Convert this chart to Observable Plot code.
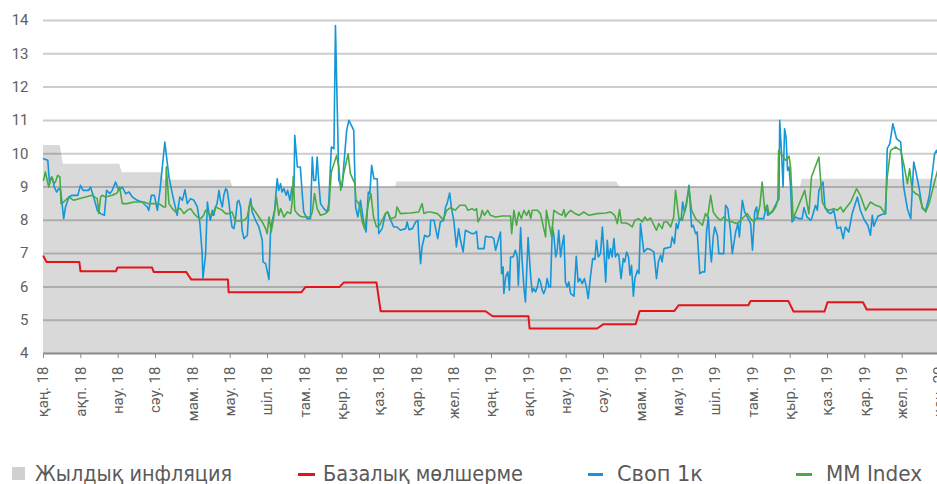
<!DOCTYPE html>
<html><head><meta charset="utf-8">
<script src="https://cdn.jsdelivr.net/npm/d3@7"></script>
<script src="https://cdn.jsdelivr.net/npm/@observablehq/plot@0.6"></script>
<style>
body{margin:0;background:#fff;overflow:hidden}
#chart{width:937px;height:484px;overflow:hidden}
#chart svg{display:block}
</style>
</head><body><div id="chart"></div>
<script>
// month tick labels (one per month, index 0 = Jan 2018)
const monthLabels = ["қаң. 18","ақп. 18","нау. 18","сәу. 18","мам. 18","мау. 18","шіл. 18","там. 18","қыр. 18","қаз. 18","қар. 18","жел. 18",
  "қаң. 19","ақп. 19","нау. 19","сәу. 19","мам. 19","мау. 19","шіл. 19","там. 19","қыр. 19","қаз. 19","қар. 19","жел. 19","қаң. 20"];
const yTicks = [4,5,6,7,8,9,10,11,12,13,14];

// Жылдық инфляция (t = months since Jan 2018)
const inflT = [0,0.45,0.53,2.04,2.11,3.16,3.23,5.01,5.07,9.43,9.47,15.35,15.44,20.28,20.32,24];
const inflV = [10.25,10.25,9.68,9.68,9.43,9.43,9.2,9.2,9.0,9.0,9.15,9.15,9.0,9.0,9.23,9.23];

// Базалық мөлшерме
const baseT = [0,0.08,0.96,0.99,1.94,1.98,2.91,2.95,3.82,3.96,4.94,4.96,6.91,7.02,7.93,8.04,8.92,9.03,11.84,12.03,12.99,13.02,14.83,15.0,15.86,15.97,16.9,17.01,18.88,18.94,19.95,20.09,20.92,21.0,21.95,22.05,24];
const baseV = [6.92,6.75,6.75,6.47,6.47,6.58,6.58,6.45,6.45,6.22,6.22,5.84,5.84,6.0,6.0,6.13,6.13,5.27,5.27,5.12,5.12,4.75,4.75,4.88,4.88,5.28,5.28,5.45,5.45,5.58,5.58,5.26,5.26,5.54,5.54,5.32,5.32];

// Своп 1к
const swapT = [0,0.115,0.16,0.21,0.25,0.29,0.35,0.41,0.46,0.54,0.59,0.68,0.77,0.92,0.99,1.06,1.21,1.26,1.33,1.44,1.53,1.63,1.69,1.78,1.84,1.93,2.02,2.11,2.20,2.29,2.38,2.51,2.64,2.78,2.82,2.89,2.97,3.05,3.12,
  3.25,3.36,3.45,3.54,3.58,3.65,3.72,3.79,3.85,3.94,4.03,4.12,4.19,4.25,4.27,4.34,4.39,4.43,4.47,4.52,4.56,4.61,4.65,4.70,4.74,4.79,4.83,4.88,4.92,4.96,5.01,5.05,5.10,5.14,5.19,5.23,5.28,5.32,5.37,5.46,5.50,5.55,5.59,5.68,5.77,5.86,5.88,5.95,6.04,6.08,6.13,6.19,
  6.26,6.30,6.35,6.39,6.44,6.50,6.54,6.60,6.66,6.71,6.73,6.80,6.88,6.93,6.97,7.06,7.15,7.20,7.24,7.29,7.33,7.37,7.42,7.51,7.60,7.64,7.71,7.78,7.82,7.87,7.91,8.00,8.04,8.12,8.18,8.27,8.31,8.36,8.42,8.49,8.58,8.64,8.70,8.74,8.79,8.85,8.94,8.98,
  9.07,9.16,9.22,9.28,9.38,9.47,9.56,9.70,9.74,9.79,9.88,9.97,10.03,10.05,10.10,10.14,10.21,10.28,10.35,10.37,10.46,10.56,10.63,10.72,10.77,10.81,10.88,10.93,10.99,11.06,11.12,11.17,11.24,11.30,11.39,11.47,11.53,11.60,11.64,11.75,11.80,11.84,11.93,12.00,12.06,12.11,12.18,12.24,
  12.27,12.31,12.33,12.38,12.44,12.48,12.51,12.58,12.64,12.69,12.72,12.78,12.82,12.87,12.91,12.98,13.05,13.09,13.13,13.18,13.23,13.27,13.31,13.36,13.40,13.45,13.49,13.54,13.58,13.63,13.67,13.72,13.76,13.80,13.85,13.89,13.94,13.98,14.03,14.07,14.12,14.21,14.27,14.32,14.37,14.43,14.49,14.54,14.59,14.65,14.71,14.77,14.81,14.86,14.92,14.97,
  15.01,15.06,15.10,15.14,15.19,15.23,15.28,15.32,15.37,15.41,15.47,15.53,15.57,15.62,15.67,15.71,15.75,15.80,15.84,15.91,15.95,15.99,16.08,16.17,16.26,16.35,16.42,16.47,16.53,16.57,16.62,16.80,16.84,16.90,16.95,16.99,17.04,17.08,17.12,17.17,17.22,17.29,17.36,17.40,17.47,17.51,17.58,17.65,17.71,17.76,17.81,17.85,17.89,17.94,17.98,
  18.05,18.09,18.22,18.27,18.33,18.40,18.45,18.54,18.60,18.64,18.69,18.72,18.78,18.85,18.94,18.99,19.05,19.10,19.13,19.29,19.37,19.40,19.47,19.56,19.65,19.70,19.72,19.77,19.81,19.85,19.89,19.93,19.97,20.01,
  20.05,20.14,20.23,20.32,20.37,20.45,20.55,20.59,20.68,20.73,20.77,20.88,20.93,21.01,21.08,21.17,21.26,21.35,21.42,21.48,21.57,21.66,21.80,21.88,21.99,22.08,22.15,22.20,22.24,22.35,
  22.47,22.56,22.60,22.67,22.75,22.85,22.96,23.04,23.14,23.23,23.31,23.36,23.45,23.54,23.63,23.72,23.81,23.87,23.92,23.96];
const swapV = [9.85,9.8,9.12,9.3,9.2,9.0,8.85,8.95,8.9,8.05,8.4,8.7,8.75,8.75,9.05,8.9,8.9,9.0,8.75,8.3,8.2,8.15,8.9,8.8,8.9,9.15,8.9,9.0,8.8,8.85,8.7,8.6,8.55,8.4,8.3,8.75,8.75,8.3,8.9,
  10.35,9.3,8.8,8.35,8.15,8.7,8.6,8.92,8.5,8.65,8.6,8.4,7.9,7.0,6.25,6.95,8.55,8.2,8.0,8.3,8.15,8.4,8.5,8.9,8.6,8.4,8.75,8.95,8.9,8.6,8.1,7.8,7.75,8.0,8.55,8.6,8.4,7.7,7.45,7.55,8.3,8.65,8.25,8.0,7.8,7.4,6.75,6.7,6.22,7.65,8.0,8.3,
  9.25,8.9,9.1,8.85,8.95,8.75,8.9,8.6,9.0,9.0,10.55,9.6,9.6,8.8,8.25,8.05,8.05,9.9,9.2,9.2,9.9,9.2,8.5,8.35,8.25,8.5,10.2,10.15,13.85,11.3,9.2,9.0,9.6,10.7,11.0,10.8,10.7,8.4,8.1,8.6,7.9,7.65,8.85,8.8,9.65,9.25,9.25,7.6,
  7.75,8.2,8.25,8.05,7.8,7.8,7.7,7.75,7.95,7.72,7.75,7.95,8.0,7.5,6.7,7.2,7.55,7.5,7.55,8.0,8.0,7.45,7.95,8.0,8.4,8.5,8.82,8.35,8.0,7.2,7.75,7.4,7.05,7.7,7.65,7.6,7.6,7.67,7.15,7.15,7.15,7.52,7.5,7.5,7.45,7.1,7.4,7.65,
  6.4,6.6,5.8,6.3,6.45,5.9,6.9,6.9,7.1,6.9,6.05,7.78,6.8,5.95,5.55,7.48,6.3,5.85,5.95,5.85,6.0,6.25,6.15,5.9,5.8,5.95,6.25,6.0,6.0,7.8,7.55,6.9,7.1,7.7,6.9,7.25,7.55,6.15,6.0,6.15,5.8,5.72,6.92,6.15,6.25,6.1,6.25,6.0,5.65,6.3,6.85,6.82,7.4,6.9,7.0,7.8,
  7.1,6.15,7.4,6.85,7.15,6.9,7.45,6.9,7.0,6.95,6.25,6.85,6.75,7.05,6.9,6.35,6.65,5.72,6.25,6.5,6.4,7.9,7.05,7.15,7.12,7.05,6.25,6.75,6.95,6.75,7.15,7.2,7.5,7.3,7.9,7.75,8.05,8.0,8.55,8.25,8.45,9.05,7.8,7.85,7.6,7.65,6.4,6.45,6.45,7.65,8.1,7.2,6.75,7.5,7.8,
  7.55,7.0,7.0,8.45,8.35,7.7,7.0,7.65,7.9,7.5,8.2,8.6,8.25,8.1,7.9,7.1,8.25,8.4,8.05,8.05,8.45,8.15,8.2,8.35,8.55,8.65,11.0,10.0,9.0,10.75,10.5,9.5,9.6,9.0,
  7.95,8.1,8.05,8.05,8.38,8.1,8.0,8.1,8.45,8.3,8.9,9.15,8.4,8.25,8.2,8.3,7.75,7.8,7.45,7.8,7.65,8.2,8.7,8.3,8.0,7.85,7.55,8.15,7.82,8.12,
  8.18,8.2,10.15,10.3,10.9,10.45,10.35,9.0,8.35,8.05,9.75,9.5,9.0,8.35,8.3,8.7,9.45,10.0,10.1,10.0];

// MM Index
const mmT = [0,0.05,0.14,0.19,0.23,0.28,0.32,0.38,0.44,0.47,0.54,0.68,0.81,0.95,1.13,1.30,1.44,1.48,1.53,1.57,1.66,1.84,1.97,2.04,2.11,2.24,2.42,2.69,2.82,2.95,3.09,3.22,3.27,3.29,3.36,3.45,3.54,3.62,3.67,3.76,3.85,3.94,4.03,4.12,4.21,4.29,4.34,4.43,4.52,4.61,4.70,4.79,4.88,4.96,
  5.05,5.14,5.28,5.37,5.46,5.53,5.59,5.68,5.77,5.86,5.95,5.99,6.04,6.10,6.17,6.24,6.30,6.35,6.44,6.53,6.62,6.66,6.69,6.73,6.80,6.88,6.97,7.15,7.20,7.26,7.33,7.42,7.55,7.64,7.71,7.85,7.91,7.96,8.04,8.16,8.22,8.34,8.37,8.45,8.54,8.60,8.70,8.77,8.84,8.92,
  9.00,9.07,9.16,9.22,9.30,9.43,9.47,9.56,9.83,10.05,10.14,10.19,10.28,10.37,10.55,10.71,10.80,10.90,11.03,11.15,11.30,11.37,11.48,11.55,11.60,11.64,11.71,11.75,11.81,11.90,11.97,12.11,12.29,12.51,12.54,12.60,12.67,12.73,12.80,12.87,12.94,13.00,13.05,13.09,13.23,13.31,13.40,13.45,13.47,13.54,13.61,13.67,13.80,13.89,13.94,13.98,
  14.03,14.12,14.21,14.34,14.47,14.61,14.83,15.06,15.19,15.30,15.37,15.43,15.48,15.59,15.68,15.77,15.84,15.94,16.04,16.11,16.17,16.26,16.31,16.42,16.48,16.57,16.62,16.71,16.80,16.88,16.93,17.02,17.11,17.17,17.29,17.36,17.47,17.56,17.65,17.73,17.79,17.87,17.94,
  18.03,18.13,18.22,18.31,18.45,18.58,18.67,18.76,18.85,18.94,19.03,19.12,19.19,19.25,19.32,19.39,19.43,19.52,19.61,19.67,19.69,19.79,19.88,19.97,
  20.01,20.08,20.19,20.39,20.50,20.57,20.77,20.86,20.95,21.04,21.17,21.26,21.35,21.42,21.48,21.62,21.78,21.88,22.02,22.15,
  22.29,22.42,22.54,22.60,22.69,22.82,22.96,23.04,23.14,23.20,23.27,23.36,23.45,23.54,23.63,23.72,23.81,23.89,23.95];
const mmV = [9.2,9.45,9.0,9.2,9.3,9.1,9.15,9.35,9.3,8.5,8.55,8.7,8.6,8.65,8.7,8.75,8.65,8.2,8.7,8.75,8.7,8.75,8.82,9.0,8.5,8.5,8.55,8.55,8.5,8.5,8.5,8.4,8.4,9.6,8.5,8.35,8.25,8.35,8.35,8.2,8.3,8.35,8.2,8.1,8.05,8.15,8.3,8.2,8.15,8.4,8.35,8.3,8.2,8.2,
  8.25,7.98,7.98,8.0,8.1,8.55,8.4,8.25,8.1,7.95,7.75,7.6,8.1,7.65,8.1,8.7,8.15,8.35,8.1,8.25,8.2,8.55,9.32,8.3,8.2,8.12,8.1,8.1,8.25,8.8,8.35,8.15,8.2,8.3,9.45,9.95,9.6,8.9,9.4,10.0,9.4,9.1,8.6,8.5,7.95,7.75,8.5,8.8,8.1,7.8,
  7.85,8.0,8.2,8.25,8.05,8.1,8.4,8.2,8.22,8.25,8.5,8.2,8.25,8.25,8.2,8.02,8.3,8.38,8.3,8.45,8.45,8.3,8.35,8.3,8.35,7.95,8.1,8.3,8.15,8.3,8.15,8.1,8.13,8.13,7.6,8.3,7.85,8.25,8.05,8.3,8.15,8.3,8.05,8.3,8.3,8.2,7.75,7.5,8.3,7.9,7.5,8.3,8.2,8.15,8.32,8.1,
  8.2,8.3,8.22,8.15,8.25,8.15,8.2,8.22,8.25,8.15,7.9,8.32,7.92,7.92,7.88,7.8,8.0,8.05,7.95,8.1,8.0,8.07,7.95,7.7,7.9,7.75,7.95,7.95,7.8,8.1,8.9,8.05,8.0,8.25,8.95,8.3,8.05,7.95,7.85,8.2,8.1,8.75,8.25,
  8.1,8.0,8.1,8.0,7.95,7.9,8.0,8.1,8.2,8.05,7.95,8.1,8.45,9.15,8.3,8.45,8.2,8.25,8.4,8.6,10.1,9.95,9.8,9.92,
  9.6,8.05,8.35,8.9,8.2,9.3,9.9,8.55,8.35,8.3,8.35,8.3,8.4,8.25,8.35,8.55,8.95,8.75,8.3,8.55,
  8.45,8.4,8.2,9.3,10.1,10.2,10.1,9.7,9.1,9.55,8.9,8.8,8.75,8.4,8.25,8.5,8.9,9.25,9.5];

const zip = (T, V) => T.map((t, i) => ({t, v: V[i]}));
const infl = zip(inflT, inflV), base = zip(baseT, baseV), swap = zip(swapT, swapV), mm = zip(mmT, mmV);

const plot = Plot.plot({
  width: 937, height: 450,
  marginLeft: 43, marginRight: -2, marginTop: 20, marginBottom: 97,
  style: {fontFamily: "Roboto, 'DejaVu Sans', sans-serif", fontSize: "15px", color: "#5f5f5f", background: "white"},
  x: {type: "linear", domain: [0, 24], axis: null, label: null},
  y: {domain: [4, 14], axis: null, label: null},
  marks: [
    Plot.areaY(infl, {x: "t", y1: 4, y2: "v", fill: "#d9d9d9", curve: "linear"}),
    Plot.ruleY(yTicks.slice(1), {stroke: "#000", strokeOpacity: 0.2, strokeWidth: 2}),
    Plot.line(base, {x: "t", y: "v", stroke: "#e3151b", strokeWidth: 2}),
    Plot.line(swap, {x: "t", y: "v", stroke: "#1496d9", strokeWidth: 1.6}),
    Plot.line(mm, {x: "t", y: "v", stroke: "#49aa45", strokeWidth: 1.6}),
    Plot.ruleY([4], {stroke: "#8a8a8a", strokeWidth: 2}),
    Plot.axisY({ticks: yTicks, tickSize: 0, tickPadding: 15, tickFormat: d => String(d), label: null}),
    Plot.axisX({ticks: d3.range(0, 25), tickSize: 5, tickPadding: 8, tickRotate: -90, label: null,
      tickFormat: i => monthLabels[i], stroke: "#8a8a8a"})
  ]
});
document.getElementById("chart").appendChild(plot);

// legend
const legendItems = [
  {label: "Жылдық инфляция", kind: "box", color: "#d0d0d0"},
  {label: "Базалық мөлшерме", kind: "line", color: "#e3151b"},
  {label: "Своп 1к", kind: "line", color: "#1496d9"},
  {label: "MM Index", kind: "line", color: "#49aa45"}
];
const legendLayout = [
  {mx: 12, mw: 13, tx: 35, tw: 197},
  {mx: 298, mw: 17, tx: 323, tw: 200},
  {mx: 588, mw: 15, tx: 617, tw: 86},
  {mx: 796, mw: 16, tx: 826, tw: 96}
];
const lg = d3.select("#chart").append("svg").attr("width", 937).attr("height", 34);
legendItems.forEach((it, i) => {
  const L = legendLayout[i];
  if (it.kind === "box") lg.append("rect").attr("x", L.mx).attr("y", 17).attr("width", L.mw).attr("height", 13).attr("fill", it.color);
  else lg.append("rect").attr("x", L.mx).attr("y", 23).attr("width", L.mw).attr("height", 3).attr("fill", it.color);
  lg.append("text").attr("x", L.tx).attr("y", 31)
    .attr("font-family", "'DejaVu Sans Condensed', 'Liberation Sans Narrow', 'DejaVu Sans', sans-serif")
    .attr("font-size", 21).attr("fill", "#5a5a5a")
    .attr("textLength", L.tw).attr("lengthAdjust", "spacingAndGlyphs")
    .text(it.label);
});
</script>
</body></html>
